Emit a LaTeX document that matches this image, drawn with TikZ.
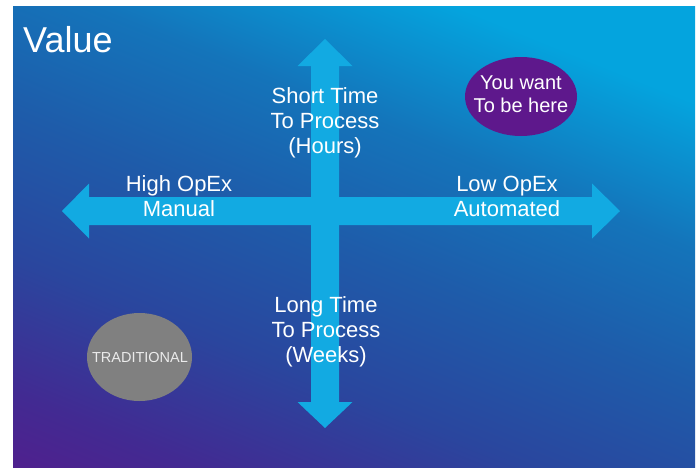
\documentclass[tikz,border=0pt]{standalone}
\usepackage{fontspec}
\setmainfont{Liberation Sans}
\usepackage{tikz}

\definecolor{bgpurple}{RGB}{90,24,138}
\definecolor{bgviolet}{RGB}{66,42,146}
\definecolor{bgblue}{RGB}{42,70,158}
\definecolor{bgmid}{RGB}{30,92,170}
\definecolor{bglight}{RGB}{20,116,186}
\definecolor{bgcyan}{RGB}{4,164,222}
\definecolor{crossblue}{RGB}{18,170,226}
\definecolor{herepurple}{RGB}{94,24,140}
\definecolor{tradgray}{RGB}{128,128,128}

\pgfdeclareverticalshading{valuebg}{100bp}{color(0bp)=(bgpurple); color(12bp)=(bgpurple); color(24bp)=(bgviolet); color(36bp)=(bgblue); color(49bp)=(bgmid); color(61bp)=(bglight); color(74bp)=(bgcyan); color(100bp)=(bgcyan)}

\tikzset{
  axislabel/.style={text=white, align=center, inner sep=0pt, font=\fontsize{22}{25}\selectfont},
  blobtext/.style={inner sep=0pt, align=center, text=white},
}

\begin{document}
\begin{tikzpicture}[x=1pt, y=-1pt]
			%%%%% START %%%%%
			
			\useasboundingbox (0, 0) rectangle (699, 467);
			\fill[white] (0, 0) rectangle (699, 467);
			\shade[shading=valuebg, shading angle=-22] (13, 6) rectangle (695, 467);
			
			\node[anchor=base west, inner sep=0pt, text=white, font=\fontsize{36}{40}\selectfont] (value) at (23, 52) {Value};
			
			% the cross
			\fill[crossblue] (62, 211) -- (89, 183.5) -- (89, 197) -- (592, 197) -- (592, 183.5) -- (620, 211)
			  -- (592, 238.5) -- (592, 225) -- (89, 225) -- (89, 238.5) -- cycle;
			\fill[crossblue] (325, 39) -- (352.5, 66) -- (339, 66) -- (339, 402) -- (352.5, 402) -- (325, 428)
			  -- (297.5, 402) -- (311, 402) -- (311, 66) -- (297.5, 66) -- cycle;
			
			\node[axislabel] (short) at (325, 122.5) {Short Time\\To Process\\(Hours)};
			\node[axislabel] (long) at (326, 332) {Long Time\\To Process\\(Weeks)};
			\node[axislabel] (high) at (179, 196.5) {High OpEx\\Manual};
			\node[axislabel] (low) at (507, 196.5) {Low OpEx\\Automated};
			
			% where you are / where you want to be
			\fill[herepurple] (521, 96.5) ellipse [x radius=56, y radius=39.5];
			\node[blobtext, font=\fontsize{20}{23}\selectfont] (here) at (521, 94.5) {You want\\To be here};
			
			\fill[tradgray] (139.5, 357) ellipse [x radius=52.5, y radius=44];
			\node[blobtext, text=white!92!black, font=\fontsize{14.5}{16}\selectfont] (trad) at (140, 357.5) {TRADITIONAL};
			
			%%%%% END %%%%%
\end{tikzpicture}
\end{document}
